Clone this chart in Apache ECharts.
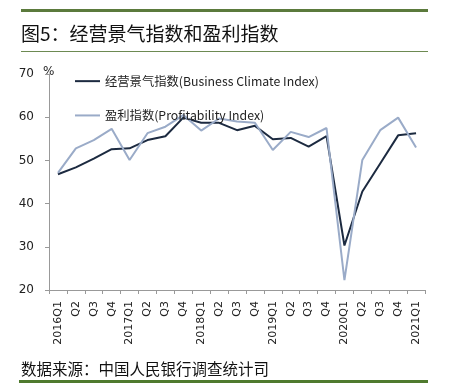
<!DOCTYPE html>
<html><head><meta charset="utf-8">
<script src="https://cdn.jsdelivr.net/npm/echarts@6/dist/echarts.min.js"></script>
<style>html,body{margin:0;padding:0;background:#fff}#c{width:452px;height:384px}</style>
</head><body><div id="c"></div>
<script>
var categories = ["2016Q1","Q2","Q3","Q4","2017Q1","Q2","Q3","Q4","2018Q1","Q2","Q3","Q4","2019Q1","Q2","Q3","Q4","2020Q1","Q2","Q3","Q4","2021Q1"];
var businessClimate = [46.8,48.4,50.4,52.6,52.8,54.7,55.6,59.9,58.7,58.7,57.0,58.0,54.9,55.2,53.2,55.6,30.3,42.8,49.3,55.8,56.3];
var profitability = [47.1,52.8,54.7,57.3,50.1,56.3,57.8,60.5,56.9,59.7,59.0,58.7,52.4,56.6,55.4,57.5,22.3,50.1,57.0,59.9,53.0];
var yTicks = {min:20, max:70, interval:10};
var titleText = "图5：经营景气指数和盈利指数";
var sourceText = "数据来源：中国人民银行调查统计司";
var seriesNames = ["经营景气指数(Business Climate Index)","盈利指数(Profitability Index)"];

var chart = echarts.init(document.getElementById('c'));
var cjk = '"Noto Sans CJK SC", "DejaVu Sans", sans-serif';
chart.setOption({
  animation:false,
  backgroundColor:'#fff',
  textStyle:{fontFamily:cjk},
  grid:{left:49,right:27,top:74,bottom:94,containLabel:false},
  legend:{
    orient:'vertical', left:75, top:75, itemWidth:25, itemHeight:2, itemGap:22,
    icon:'rect', padding:0,
    textStyle:{fontSize:12.3,color:'#222',fontFamily:cjk,padding:[0,0,0,0]},
    data:seriesNames
  },
  xAxis:{
    type:'category', data:categories, boundaryGap:true,
    axisLine:{lineStyle:{color:'#999',width:1}},
    axisTick:{show:true,alignWithLabel:false,length:4,lineStyle:{color:'#999'}},
    axisLabel:{rotate:90,interval:0,fontSize:11,color:'#222',margin:11,fontFamily:'"DejaVu Sans", sans-serif'}
  },
  yAxis:{
    type:'value', min:yTicks.min, max:yTicks.max, interval:yTicks.interval,
    axisLine:{show:true,lineStyle:{color:'#999',width:1}},
    axisTick:{show:true,length:4,lineStyle:{color:'#999'}},
    splitLine:{show:false},
    axisLabel:{fontSize:12,color:'#222',margin:15,fontFamily:'"DejaVu Sans", sans-serif'}
  },
  series:[
    {name:seriesNames[0],type:'line',data:businessClimate,symbol:'none',
     lineStyle:{color:'#1c2a40',width:2},itemStyle:{color:'#1c2a40'}},
    {name:seriesNames[1],type:'line',data:profitability,symbol:'none',
     lineStyle:{color:'#9aabc8',width:2},itemStyle:{color:'#9aabc8'}}
  ],
  graphic:[
    {type:'rect',shape:{x:21,y:9,width:407,height:3},style:{fill:'#5b7a3c'}},
    {type:'text',left:21,top:24,style:{text:titleText,fontSize:19,fill:'#111',fontFamily:cjk}},
    {type:'rect',shape:{x:21,y:51,width:407,height:1},style:{fill:'#6d8a52'}},
    {type:'text',left:43,top:66,style:{text:'%',fontSize:12,fill:'#222',fontFamily:'"DejaVu Sans", sans-serif'}},
    {type:'text',left:21,top:361,style:{text:sourceText,fontSize:15.5,fill:'#111',fontFamily:cjk}},
    {type:'rect',shape:{x:19,y:380,width:409,height:3},style:{fill:'#4f7a2e'}}
  ]
});
</script></body></html>
